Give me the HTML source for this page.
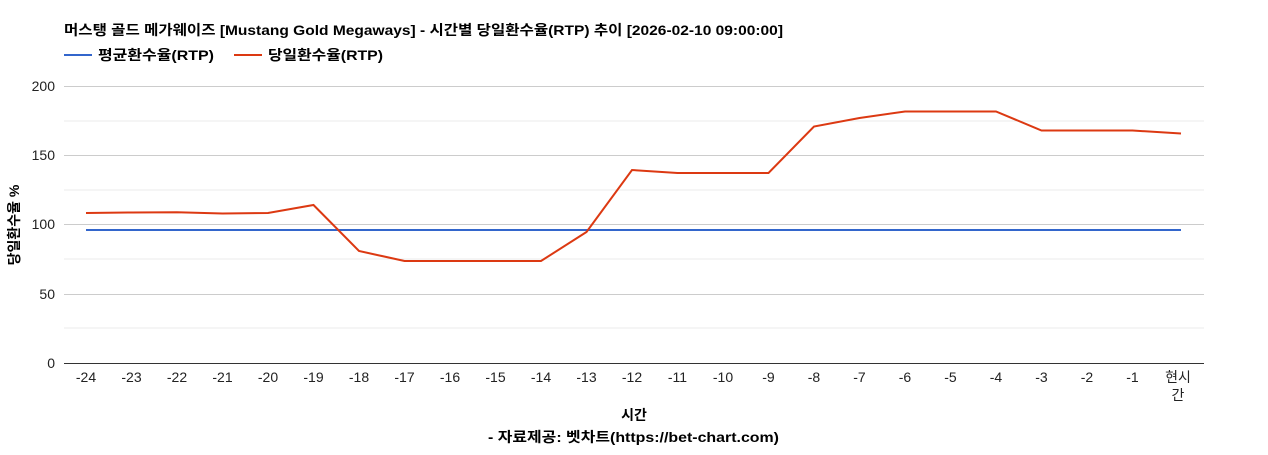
<!DOCTYPE html>
<html><head><meta charset="utf-8"><style>
body{margin:0;background:#fff;}
svg text{font-family:"Liberation Sans","Noto Sans CJK KR",sans-serif;}
</style></head><body>
<svg width="1268" height="450" xmlns="http://www.w3.org/2000/svg">
<text x="64" y="35" font-size="14" font-weight="bold" fill="#000" textLength="719" lengthAdjust="spacingAndGlyphs">머스탱 골드 메가웨이즈 [Mustang Gold Megaways] - 시간별 당일환수율(RTP) 추이 [2026-02-10 09:00:00]</text>
<line x1="64" y1="55" x2="92" y2="55" stroke="#3366cc" stroke-width="2"/>
<text x="98" y="60" font-size="14" font-weight="bold" textLength="116" lengthAdjust="spacingAndGlyphs">평균환수율(RTP)</text>
<line x1="234" y1="55" x2="262" y2="55" stroke="#dc3912" stroke-width="2"/>
<text x="268" y="60" font-size="14" font-weight="bold" textLength="115" lengthAdjust="spacingAndGlyphs">당일환수율(RTP)</text>
<g stroke="#ebebeb" stroke-width="1">
<line x1="64" y1="121" x2="1204" y2="121"/><line x1="64" y1="190" x2="1204" y2="190"/><line x1="64" y1="259" x2="1204" y2="259"/><line x1="64" y1="328" x2="1204" y2="328"/>
</g>
<g stroke="#cccccc" stroke-width="1">
<line x1="64" y1="86.5" x2="1204" y2="86.5"/><line x1="64" y1="155.5" x2="1204" y2="155.5"/><line x1="64" y1="224.5" x2="1204" y2="224.5"/><line x1="64" y1="294.5" x2="1204" y2="294.5"/>
</g>
<line x1="64" y1="363.5" x2="1204" y2="363.5" stroke="#333"/>
<g font-size="14" text-anchor="end" fill="#222">
<text x="55" y="91">200</text><text x="55" y="160">150</text><text x="55" y="229">100</text><text x="55" y="299">50</text><text x="55" y="368">0</text>
</g>
<text transform="translate(19,225) rotate(-90)" font-size="14" font-weight="bold" text-anchor="middle">당일환수율 %</text>
<g font-size="14" text-anchor="middle" fill="#222">
<text x="86" y="382">-24</text><text x="131.5" y="382">-23</text><text x="177" y="382">-22</text><text x="222.5" y="382">-21</text><text x="268" y="382">-20</text><text x="313.5" y="382">-19</text><text x="359" y="382">-18</text><text x="404.5" y="382">-17</text><text x="450" y="382">-16</text><text x="495.5" y="382">-15</text><text x="541" y="382">-14</text><text x="586.5" y="382">-13</text><text x="632" y="382">-12</text><text x="677.5" y="382">-11</text><text x="723" y="382">-10</text><text x="768.5" y="382">-9</text><text x="814" y="382">-8</text><text x="859.5" y="382">-7</text><text x="905" y="382">-6</text><text x="950.5" y="382">-5</text><text x="996" y="382">-4</text><text x="1041.5" y="382">-3</text><text x="1087" y="382">-2</text><text x="1132.5" y="382">-1</text><text x="1178" y="382">현시</text><text x="1178" y="400">간</text>
</g>
<text x="634" y="420" font-size="14" font-weight="bold" text-anchor="middle">시간</text>
<text x="488" y="442" font-size="14" font-weight="bold" textLength="291" lengthAdjust="spacingAndGlyphs">- 자료제공: 벳차트(https://bet-chart.com)</text>
<line x1="86" y1="230" x2="1181" y2="230" stroke="#3366cc" stroke-width="2"/>
<polyline fill="none" stroke="#dc3912" stroke-width="2" points="86,213 131.5,212.5 177,212.3 222.5,213.5 268,213 313.5,205 359,251 404.5,261 450,261 495.5,261 541,261 586.5,232 632,170 677.5,173 723,173 768.5,173 814,126.5 859.5,118 905,111.5 950.5,111.5 996,111.5 1041.5,130.5 1087,130.5 1132.5,130.5 1181,133.5"/>
</svg>
</body></html>
